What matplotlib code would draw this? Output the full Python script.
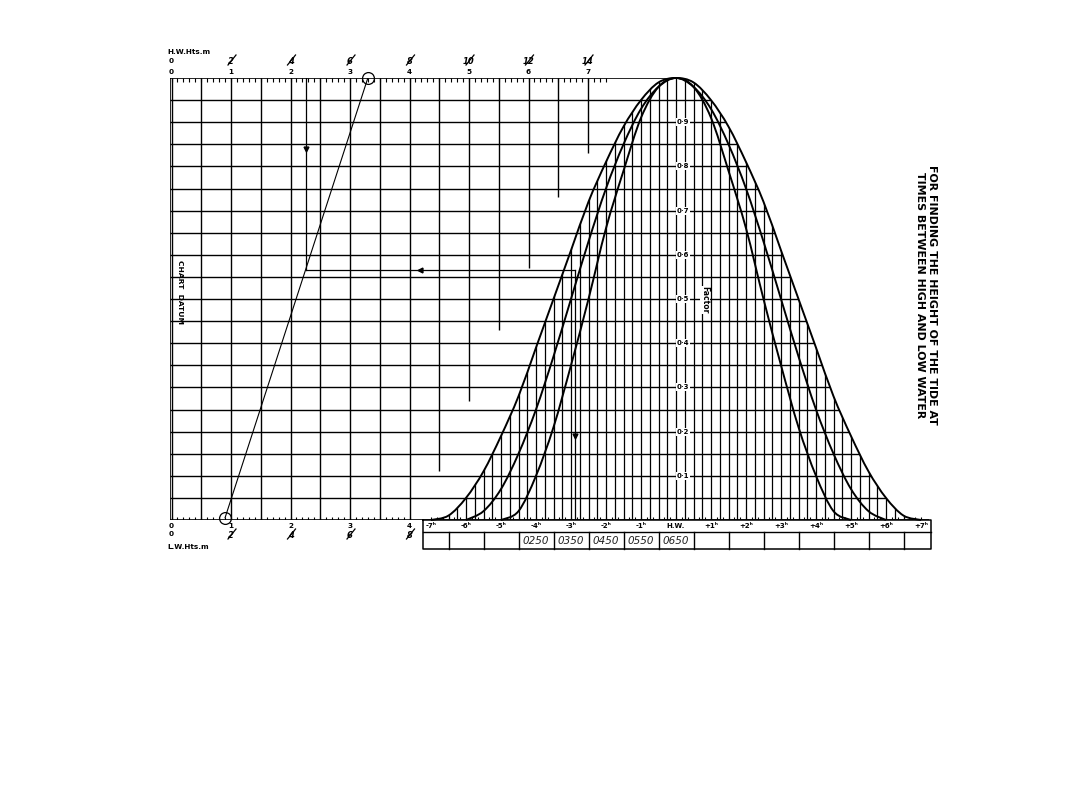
import numpy as np
import matplotlib
matplotlib.use("Agg")
import matplotlib.pyplot as plt
from matplotlib.collections import LineCollection
from matplotlib.patches import Polygon, PathPatch
from matplotlib.path import Path

# Tidal curve diagram: height of tide at times between HW and LW

hw_metres = [0, 1, 2, 3, 4, 5, 6, 7]
hw_metres_alt = ['0', '2', '4', '6', '8', '10', '12', '14']
lw_metres = [0, 1, 2, 3, 4]
lw_metres_alt = ['0', '2', '4', '6', '8']

factor_ticks = [0.1, 0.2, 0.3, 0.4, 0.5, 0.6, 0.7, 0.8, 0.9]
factor_labels = ['0·1', '0·2', '0·3', '0·4', '0·5', '0·6', '0·7', '0·8', '0·9']

hour_ticks = [-7, -6, -5, -4, -3, -2, -1, 0, 1, 2, 3, 4, 5, 6, 7]
hour_labels = ['-7ʰ', '-6ʰ', '-5ʰ', '-4ʰ', '-3ʰ', '-2ʰ', '-1ʰ', 'H.W.',
               '+1ʰ', '+2ʰ', '+3ʰ', '+4ʰ', '+5ʰ', '+6ʰ', '+7ʰ']

# factor, hours from high water (duration 5, 6, 7 h)
hours_5 = [0, 0.5, 1, 1.5, 2, 2.5, 3, 3.5, 4, 4.5, 5]
factor_5 = [1, 0.98, 0.91, 0.79, 0.66, 0.50, 0.35, 0.21, 0.10, 0.02, 0]
hours_6 = [0, 0.5, 1, 1.5, 2, 2.5, 3, 3.5, 4, 4.5, 5, 5.5, 6]
factor_6 = [1, 0.98, 0.93, 0.85, 0.75, 0.63, 0.50, 0.37, 0.25, 0.15, 0.07, 0.02, 0]
hours_7 = [0, 0.5, 1, 1.5, 2, 2.5, 3, 3.5, 4, 4.5, 5, 5.5, 6, 6.5, 7]
factor_7 = [1, 0.99, 0.95, 0.89, 0.81, 0.72, 0.61, 0.50, 0.39, 0.28, 0.19, 0.11,
            0.05, 0.01, 0]

# worked example pencilled on the chart
lw_height = 0.9
hw_height = 3.3
example_hour = -2.9
example_factor = 0.565
example_times = ['0250', '0350', '0450', '0550', '0650']
example_time_hours = [-4, -3, -2, -1, 0]

# ---- layout (pixels of the 1080x810 sheet) ----
W, H = 1080, 810
PX_HOUR = 35.0
HW_X = 676.0
M0_X = 171.5
PX_M = 59.5
TOP, BOT, LEFT, RIGHT = 78, 520, 170, 929


def tx(px):
    return (px - HW_X) / PX_HOUR


def fy(py):
    return (BOT - py) / (BOT - TOP)


def m2t(m):
    return tx(M0_X + PX_M * m)


def smooth(xs, ys):
    # Catmull-Rom through the read points, drawn as cubic Bezier
    p = np.column_stack([xs, ys]).astype(float)
    q = np.vstack([p[0], p, p[-1]])
    verts, codes = [tuple(p[0])], [Path.MOVETO]
    for i in range(1, len(q) - 2):
        c1 = q[i] + (q[i + 1] - q[i - 1]) / 6
        c2 = q[i + 1] - (q[i + 2] - q[i]) / 6
        verts += [tuple(c1), tuple(c2), tuple(q[i + 1])]
        codes += [Path.CURVE4] * 3
    return Path(verts, codes)


def whole_curve(hrs, fac):
    xs = [-h for h in hrs[::-1]] + hrs[1:]
    ys = fac[::-1] + fac[1:]
    return smooth(xs, ys)


fig = plt.figure(figsize=(W / 100, H / 100), dpi=100)
ax = fig.add_axes([LEFT / W, (H - BOT) / H, (RIGHT - LEFT) / W, (BOT - TOP) / H])
ax.set_xlim(tx(LEFT), tx(RIGHT))
ax.set_ylim(0, 1)
ax.axis('off')

K = 'black'
GLW = 1.0

# outer (7 h) curve as clip regions
outer = whole_curve(hours_7, factor_7).to_polygons(closed_only=False)[0]
under_curve = Polygon(outer, closed=True, transform=ax.transData)
right_half = [v for v in outer if v[0] >= 0]
sheet = Polygon([(tx(LEFT), 0), (tx(LEFT), 1)] + right_half + [(tx(RIGHT), 0)],
                closed=True, transform=ax.transData)

# horizontal grid every 0.05
segs = [[(tx(LEFT), f), (tx(RIGHT), f)] for f in np.linspace(0.05, 0.95, 19)]
lc = LineCollection(segs, colors=K, linewidths=GLW)
ax.add_collection(lc)
lc.set_clip_path(sheet)

# metre grid (the right-hand lines stop short, as drawn)
metre_grid = [0, 0.5, 1, 1.5, 2, 2.5, 3, 3.5, 4, 4.5, 5, 5.5, 6, 6.5, 7]
metre_stop = [0, 0, 0, 0, 0, 0, 0, 0, 0, 0.11, 0.27, 0.43, 0.57, 0.73, 0.83]
segs = [[(m2t(m), s), (m2t(m), 1)] for m, s in zip(metre_grid, metre_stop)]
ax.add_collection(LineCollection(segs, colors=K, linewidths=GLW))

# time grid under the curves
segs = [[(t, 0), (t, 1)] for t in np.arange(-7, 7.01, 0.25)]
lc = LineCollection(segs, colors=K, linewidths=GLW * 0.9)
ax.add_collection(lc)
lc.set_clip_path(under_curve)

# frame
ax.plot([tx(LEFT), 0], [1, 1], color=K, lw=1.2)
ax.plot([tx(LEFT), tx(RIGHT)], [0, 0], color=K, lw=1.2)
ax.plot([tx(LEFT), tx(LEFT)], [0, 1], color=K, lw=1.2)

# tidal curves
for hrs, fac in [(hours_5, factor_5), (hours_6, factor_6), (hours_7, factor_7)]:
    ax.add_patch(PathPatch(whole_curve(hrs, fac), fill=False, ec=K, lw=1.4,
                           clip_on=False))

# scale ticks
dy = 3.5 / (BOT - TOP)
segs = [[(m2t(m), 1), (m2t(m), 1 - dy)] for m in np.arange(0, 7.31, 0.1)]
segs += [[(m2t(m), 0), (m2t(m), dy)] for m in np.arange(0, 4.01, 0.1)]
segs += [[(t, 0), (t, dy)] for t in np.arange(-7, 7.01, 1 / 6)]
ax.add_collection(LineCollection(segs, colors=K, linewidths=0.8))

# worked example: LW/HW line and reading
ax.plot([m2t(lw_height), m2t(hw_height)], [0.005, 1], color=K, lw=0.8)
ax.plot([m2t(lw_height), m2t(hw_height)], [0.005, 1], 'o', ms=8.5, mfc='none',
        mec=K, mew=0.9, clip_on=False)
m_read = lw_height + (hw_height - lw_height) * example_factor
ax.plot([m2t(m_read), m2t(m_read)], [example_factor, 1], color=K, lw=0.9)
ax.plot([m2t(m_read), example_hour], [example_factor, example_factor], color=K, lw=0.9)
ax.plot([example_hour, example_hour], [0, example_factor], color=K, lw=0.9)
ax.plot([m2t(m_read)], [0.84], 'v', color=K, ms=3.5)
ax.plot([tx(420)], [example_factor], '<', color=K, ms=3.5)
ax.plot([example_hour], [0.19], 'v', color=K, ms=3.5)

# scale labels
bold = dict(fontsize=5.2, fontweight='bold', va='center', clip_on=False)


def struck(x, y, s):
    # pencilled doubled scale, each figure crossed out
    ax.text(x, y, s, fontsize=6, fontstyle='italic', fontweight='bold',
            ha='center', va='center', clip_on=False)
    ax.plot([x - 3 / PX_HOUR, x + 5 / PX_HOUR], [y - 4 / 442, y + 6 / 442],
            color=K, lw=0.9, clip_on=False)


ax.text(tx(167), fy(52), 'H.W.Hts.m', ha='left', **bold)
for m, alt in zip(hw_metres, hw_metres_alt):
    ax.text(m2t(m), fy(72), str(m), ha='center', **bold)
    if m == 0:
        ax.text(m2t(m), fy(61), alt, ha='center', **bold)
    else:
        struck(m2t(m), fy(61), alt)

for m, alt in zip(lw_metres, lw_metres_alt):
    ax.text(m2t(m), fy(526), str(m), ha='center', **bold)
    if m == 0:
        ax.text(m2t(m), fy(534), alt, ha='center', **bold)
    else:
        struck(m2t(m), fy(535), alt)
ax.text(tx(167), fy(547), 'L.W.Hts.m', ha='left', **bold)

for f, lab in zip(factor_ticks, factor_labels):
    ax.text(tx(683), f, lab, fontsize=5, fontweight='bold', ha='center', va='center',
            bbox=dict(boxstyle='square,pad=0.15', fc='white', ec='none'))
ax.text(tx(705), fy(300), 'Factor', rotation=-90, fontsize=5.5, fontweight='bold',
        ha='center', va='center',
        bbox=dict(boxstyle='square,pad=0.1', fc='white', ec='none'))
ax.text(tx(180), fy(292), 'CHART  DATUM', rotation=-90, fontsize=5.4,
        fontweight='bold', ha='center', va='center')

# time table under the curves
r1, r2 = fy(532), fy(549)
tl, tr = tx(423), tx(931)
ax.plot([tl, tr, tr, tl, tl], [0, 0, r2, r2, 0], color=K, lw=1.1, clip_on=False)
ax.plot([tl, tr], [r1, r1], color=K, lw=1.0, clip_on=False)
for t in np.arange(-6.5, 6.6, 1):
    ax.plot([t, t], [r1, r2], color=K, lw=1.0, clip_on=False)
for t, lab in zip(hour_ticks, hour_labels):
    ax.text(t, fy(526), lab, fontsize=5, fontweight='bold', ha='center', va='center',
            clip_on=False)
for t, s in zip(example_time_hours, example_times):
    ax.text(t, fy(541), s, fontsize=7.5, fontstyle='italic', color='#222222',
            ha='center', va='center', clip_on=False)

fig.text(926 / W, 1 - 295 / H,
         'FOR FINDING THE HEIGHT OF THE TIDE AT\nTIMES BETWEEN HIGH AND LOW WATER',
         rotation=-90, ha='center', va='center', multialignment='center',
         fontsize=7.9, fontweight='bold', family='DejaVu Sans',
         linespacing=1.3)

fig.savefig('out.png', dpi=100, facecolor='white')
